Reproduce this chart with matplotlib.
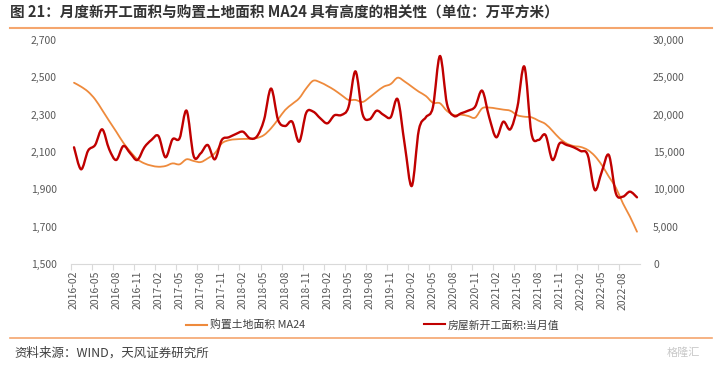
import matplotlib
matplotlib.use("Agg")
import matplotlib.pyplot as plt
import numpy as np
import pandas as pd
from matplotlib.path import Path
from matplotlib.patches import PathPatch
from matplotlib.lines import Line2D
from matplotlib.ticker import FuncFormatter

plt.rcParams['font.family'] = ['Noto Sans CJK SC', 'DejaVu Sans']

# monthly categories 2016-02 .. 2022-10
months = list(pd.period_range('2016-02', '2022-10', freq='M').strftime('%Y-%m'))

# 购置土地面积 MA24 (left axis, 万平方米)
land_ma24 = [2471, 2450, 2423, 2382, 2325, 2266, 2209, 2150, 2102, 2061,
             2039, 2027, 2021, 2025, 2039, 2034, 2061, 2052, 2046, 2066,
             2093, 2146, 2163, 2168, 2170, 2171, 2175, 2191, 2227, 2275,
             2325, 2357, 2388, 2441, 2482, 2473, 2454, 2432, 2405, 2379,
             2379, 2368, 2393, 2423, 2450, 2464, 2498, 2477, 2450, 2423,
             2400, 2364, 2361, 2320, 2298, 2300, 2293, 2284, 2334, 2338,
             2333, 2327, 2321, 2297, 2289, 2286, 2268, 2250, 2213, 2173,
             2146, 2132, 2127, 2111, 2079, 2030, 1968, 1909, 1825, 1754,
             1673]

# 房屋新开工面积:当月值 (right axis, 万平方米)
new_starts = [15630, 12680, 15180, 15940, 18040, 15360, 13930, 15800, 14820, 13930,
              15630, 16610, 17140, 14290, 16700, 16830, 20530, 14460, 14820, 15940,
              14020, 16610, 16970, 17410, 17720, 16830, 17100, 19300, 23500, 19290,
              18480, 19060, 16380, 20260, 20400, 19510, 18840, 19910, 19960, 21000,
              25800, 20090, 19380, 20530, 19960, 19650, 22050, 15940, 10450, 17950,
              19650, 21000, 27860, 21430, 19820, 20180, 20530, 21070, 23210, 19650,
              16970, 19060, 18040, 21000, 26430, 17500, 16610, 17280, 13930, 16160,
              15940, 15630, 15130, 14600, 9910, 12360, 14600, 9460, 9020, 9690,
              8930]

left_ticks = [1500, 1700, 1900, 2100, 2300, 2500, 2700]
right_ticks = [0, 5000, 10000, 15000, 20000, 25000, 30000]

ORANGE = '#EE8A3C'
RED = '#C00000'
RULE = '#F5A66E'
GREY = '#595959'


def smooth_path(x, y):
    # Excel-like smoothed line: Catmull-Rom segments as cubic Beziers
    x = np.asarray(x, float)
    y = np.asarray(y, float)
    pts = np.column_stack([x, y])
    n = len(pts)
    verts = [pts[0]]
    codes = [Path.MOVETO]
    for i in range(n - 1):
        p0 = pts[max(i - 1, 0)]
        p1 = pts[i]
        p2 = pts[i + 1]
        p3 = pts[min(i + 2, n - 1)]
        c1 = p1 + (p2 - p0) / 6.0
        c2 = p2 - (p3 - p1) / 6.0
        verts += [c1, c2, p2]
        codes += [Path.CURVE4] * 3
    return Path(verts, codes)


fig = plt.figure(figsize=(7.2, 3.65), dpi=100)
ax = fig.add_axes([70.5 / 720, 1 - 264 / 365, 570 / 720, 224 / 365])
ax2 = ax.twinx()

idx = np.arange(len(months))
ax.add_patch(PathPatch(smooth_path(idx, land_ma24), fill=False,
                       edgecolor=ORANGE, lw=1.3, capstyle='round', joinstyle='round'))
ax2.add_patch(PathPatch(smooth_path(idx, new_starts), fill=False,
                        edgecolor=RED, lw=1.7, capstyle='round', joinstyle='round'))

ax.set_xlim(-0.5, len(months) - 0.5)
ax.set_ylim(1500, 2700)
ax2.set_ylim(0, 30000)
ax.set_yticks(left_ticks)
ax2.set_yticks(right_ticks)
fmt = FuncFormatter(lambda v, p: f'{int(v):,}')
ax.yaxis.set_major_formatter(fmt)
ax2.yaxis.set_major_formatter(fmt)

ax.set_xticks(idx[::3])
ax.set_xticklabels(months[::3], rotation=90)
ax.set_xticks(idx[::3] - 0.5, minor=True)

for a in (ax, ax2):
    for s in a.spines.values():
        s.set_visible(False)
    a.tick_params(axis='y', length=0, labelsize=7.5, labelcolor=GREY)
ax.spines['bottom'].set_visible(True)
ax.spines['bottom'].set_color('#D9D9D9')
ax.spines['bottom'].set_linewidth(0.8)
ax.tick_params(axis='y', pad=10)
ax2.tick_params(axis='y', pad=9)
ax.tick_params(axis='x', which='major', length=0, labelsize=7.5, labelcolor=GREY, pad=5)
ax.tick_params(axis='x', which='minor', length=4, color='#D9D9D9', width=0.8)

# title and rules
fig.text(10 / 720, 1 - 13 / 365, '图 21：月度新开工面积与购置土地面积 MA24 具有高度的相关性（单位：万平方米）',
         fontsize=10.5, fontweight='bold', color='#333333', va='center', ha='left')
fig.add_artist(Line2D([10 / 720, 712 / 720], [1 - 28 / 365] * 2, color=RULE, lw=1.5))
fig.add_artist(Line2D([10 / 720, 712 / 720], [1 - 338 / 365] * 2, color=RULE, lw=1.2))
fig.text(14 / 720, 1 - 353 / 365, '资料来源：WIND，天风证券研究所',
         fontsize=9, color='#404040', va='center', ha='left')
fig.text(700 / 720, 1 - 353 / 365, '格隆汇', fontsize=8, color='#C8C8C8',
         va='center', ha='right')

# legend
leg1 = fig.legend([Line2D([], [], color=ORANGE, lw=1.5)], ['购置土地面积 MA24'],
                  loc='center left', bbox_to_anchor=(186 / 720, 1 - 325 / 365),
                  frameon=False, fontsize=7.8, handlelength=1.9, handletextpad=0.3,
                  borderpad=0, borderaxespad=0, labelcolor='#404040')
leg2 = fig.legend([Line2D([], [], color=RED, lw=1.5)], ['房屋新开工面积:当月值'],
                  loc='center left', bbox_to_anchor=(424 / 720, 1 - 325 / 365),
                  frameon=False, fontsize=7.8, handlelength=1.9, handletextpad=0.3,
                  borderpad=0, borderaxespad=0, labelcolor='#404040')

fig.savefig('out.png', dpi=100)
